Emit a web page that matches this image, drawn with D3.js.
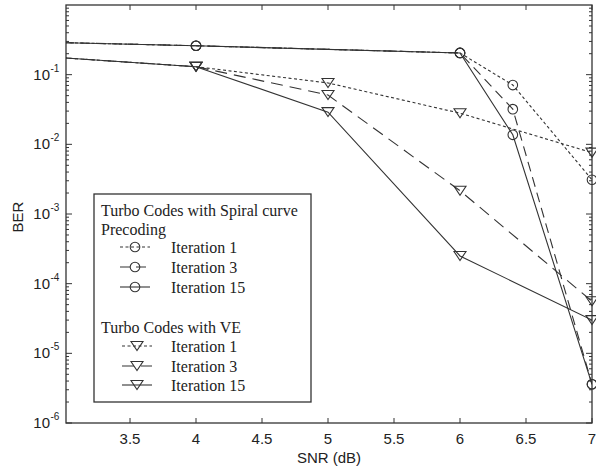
<!DOCTYPE html>
<html>
<head>
<meta charset="utf-8">
<script src="https://cdn.jsdelivr.net/npm/d3@7/dist/d3.min.js"></script>
<style>
  body { margin: 0; background: #fff; }
  svg { display: block; }
</style>
</head>
<body>
<svg id="chart" width="596" height="470"></svg>
<script>
// SNR points (dB)
const snrSpiral = [3, 4, 6, 6.4, 7];
const snrVE = [3, 4, 5, 6, 7];

// BER, spiral curve precoding (circles)
const spiralIter1 = [0.288, 0.26, 0.205, 0.071, 3.1e-3];
const spiralIter3 = [0.288, 0.26, 0.205, 0.032, 3.6e-6];
const spiralIter15 = [0.288, 0.26, 0.205, 0.0137, 3.6e-6];

// BER, VE (triangles)
const veIter1 = [0.174, 0.13, 0.076, 0.028, 7.6e-3];
const veIter3 = [0.174, 0.13, 0.051, 2.16e-3, 5.6e-5];
const veIter15 = [0.174, 0.13, 0.029, 2.5e-4, 3.0e-5];

const xTicks = [3.5, 4, 4.5, 5, 5.5, 6, 6.5, 7];
const yExponents = [-6, -5, -4, -3, -2, -1];

const series = [
  { name: "Iteration 1", x: snrSpiral, y: spiralIter1, marker: "circle", dash: "3,2.5" },
  { name: "Iteration 3", x: snrSpiral, y: spiralIter3, marker: "circle", dash: "10,6" },
  { name: "Iteration 15", x: snrSpiral, y: spiralIter15, marker: "circle", dash: null },
  { name: "Iteration 1", x: snrVE, y: veIter1, marker: "tri", dash: "3,2.5" },
  { name: "Iteration 3", x: snrVE, y: veIter3, marker: "tri", dash: "12,7" },
  { name: "Iteration 15", x: snrVE, y: veIter15, marker: "tri", dash: null },
];

const ink = "#333";
const margins = { left: 66, right: 4, top: 5, bottom: 47 };
const width = 596, height = 470;

const svg = d3.select("#chart");

const x = d3.scaleLinear()
  .domain([3.015, 7])
  .range([margins.left, width - margins.right]);

const y = d3.scaleLog()
  .domain([1e-6, 1])
  .range([height - margins.bottom, margins.top]);

svg.append("defs").append("clipPath").attr("id", "plotClip")
  .append("rect")
  .attr("x", margins.left).attr("y", margins.top)
  .attr("width", x.range()[1] - margins.left)
  .attr("height", y.range()[0] - margins.top);

// frame ticks
const axisG = svg.append("g");
const x0 = x.range()[0], x1 = x.range()[1];
const y0 = y.range()[0], y1 = y.range()[1];

xTicks.forEach((t) => {
  axisG.append("line").attr("x1", x(t)).attr("x2", x(t)).attr("y1", y0).attr("y2", y0 - 5)
    .attr("stroke", ink);
  axisG.append("line").attr("x1", x(t)).attr("x2", x(t)).attr("y1", y1).attr("y2", y1 + 5)
    .attr("stroke", ink);
  axisG.append("text")
    .attr("x", x(t)).attr("y", y0 + 21)
    .attr("text-anchor", "middle")
    .attr("font-family", "Liberation Sans, Arial, sans-serif")
    .attr("font-size", 15)
    .attr("fill", "#222")
    .text(d3.format("")(t));
});

const minor = [];
for (let e = -6; e < 0; e++) {
  for (let m = 2; m <= 9; m++) minor.push(m * Math.pow(10, e));
}
minor.forEach((v) => {
  axisG.append("line").attr("x1", x0).attr("x2", x0 + 3).attr("y1", y(v)).attr("y2", y(v))
    .attr("stroke", ink);
  axisG.append("line").attr("x1", x1).attr("x2", x1 - 3).attr("y1", y(v)).attr("y2", y(v))
    .attr("stroke", ink);
});

yExponents.forEach((e) => {
  const v = Math.pow(10, e);
  axisG.append("line").attr("x1", x0).attr("x2", x0 + 6).attr("y1", y(v)).attr("y2", y(v))
    .attr("stroke", ink);
  axisG.append("line").attr("x1", x1).attr("x2", x1 - 6).attr("y1", y(v)).attr("y2", y(v))
    .attr("stroke", ink);
  axisG.append("text")
    .attr("x", 50).attr("y", y(v) + 5)
    .attr("text-anchor", "end")
    .attr("font-family", "Liberation Sans, Arial, sans-serif")
    .attr("font-size", 15)
    .attr("fill", "#222")
    .text("10");
  axisG.append("text")
    .attr("x", 50.5).attr("y", y(v) - 3)
    .attr("font-family", "Liberation Sans, Arial, sans-serif")
    .attr("font-size", 10)
    .attr("fill", "#222")
    .text(e);
});

axisG.append("rect")
  .attr("x", x0).attr("y", y1)
  .attr("width", x1 - x0).attr("height", y0 - y1)
  .attr("fill", "none").attr("stroke", ink).attr("stroke-width", 1.3);

// axis labels
svg.append("text")
  .attr("x", (x0 + x1) / 2).attr("y", 463)
  .attr("text-anchor", "middle")
  .attr("font-family", "Liberation Sans, Arial, sans-serif")
  .attr("font-size", 15)
  .attr("fill", "#222")
  .text("SNR (dB)");

svg.append("text")
  .attr("transform", "translate(23, 217) rotate(-90)")
  .attr("text-anchor", "middle")
  .attr("font-family", "Liberation Sans, Arial, sans-serif")
  .attr("font-size", 15)
  .attr("fill", "#222")
  .text("BER");

// markers
const triPath = "M-6,-4.5L6,-4.5L0,4.5Z";
function drawMarker(g, kind, cx, cy) {
  if (kind === "circle") {
    g.append("circle").attr("cx", cx).attr("cy", cy).attr("r", 4.8)
      .attr("fill", "none").attr("stroke", ink).attr("stroke-width", 1.1);
  } else {
    g.append("path").attr("d", triPath)
      .attr("transform", `translate(${cx},${cy})`)
      .attr("fill", "none").attr("stroke", ink).attr("stroke-width", 1.1);
  }
}

// lines
const plotG = svg.append("g").attr("clip-path", "url(#plotClip)");
const line = d3.line().x((d) => x(d[0])).y((d) => y(d[1]));

series.forEach((s) => {
  const pts = s.x.map((v, i) => [v, s.y[i]]);
  plotG.append("path")
    .datum(pts)
    .attr("d", line)
    .attr("fill", "none")
    .attr("stroke", ink)
    .attr("stroke-width", 1.1)
    .attr("stroke-dasharray", s.dash);
  const mg = svg.append("g");
  pts.filter((p) => p[0] >= x.domain()[0])
    .forEach((p) => drawMarker(mg, s.marker, x(p[0]), y(p[1])));
});

// legend
const legend = svg.append("g");
legend.append("rect")
  .attr("x", 94).attr("y", 194)
  .attr("width", 217).attr("height", 208)
  .attr("fill", "#fff").attr("stroke", ink).attr("stroke-width", 1.3);

const serif = "Liberation Serif, Times New Roman, serif";
function legendText(tx, ty, str) {
  legend.append("text").attr("x", tx).attr("y", ty)
    .attr("font-family", serif).attr("font-size", 16).attr("fill", "#222")
    .text(str);
}

legendText(101, 216, "Turbo Codes with Spiral curve");
legendText(101, 235, "Precoding");
legendText(101, 333, "Turbo Codes with VE");

const legendRows = [247, 267, 287, 346, 366, 385];
series.forEach((s, i) => {
  const ly = legendRows[i];
  const cx = s.marker === "circle" ? 135 : 137;
  legend.append("line")
    .attr("x1", cx - 15).attr("x2", cx + 15)
    .attr("y1", ly).attr("y2", ly)
    .attr("stroke", ink).attr("stroke-width", 1.1)
    .attr("stroke-dasharray", s.dash);
  drawMarker(legend, s.marker, cx, ly);
  legendText(171, ly + 6, s.name);
});
</script>
</body>
</html>
